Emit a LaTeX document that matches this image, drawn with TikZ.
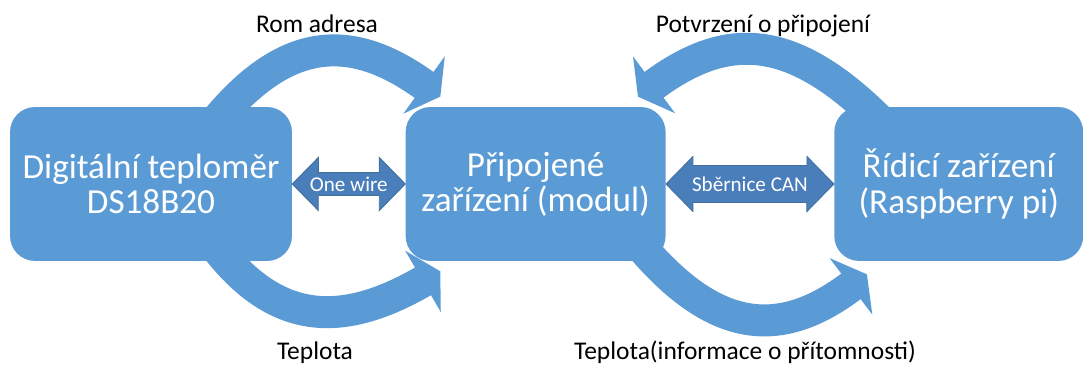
\documentclass[tikz,border=0pt]{standalone}
\usepackage{fontspec}
\setmainfont{Carlito}
\usepackage{tikz}
\usetikzlibrary{arrows.meta, positioning, calc, backgrounds}

\definecolor{boxblue}{HTML}{5B9BD5}
\definecolor{linkblue}{HTML}{4A7EBB}
\definecolor{linkedge}{HTML}{41719C}

\begin{document}
\begin{tikzpicture}[
    x=0.02cm, y=0.02cm,
    node distance=2.26cm,
    unit/.style={rectangle, fill=boxblue, rounded corners=0.5cm, minimum height=3.08cm,
                 align=center, text=white, font=\fontsize{20}{20}\selectfont},
    link/.style={fill=linkblue, draw=linkedge, line width=0.5pt},
    linktext/.style={text=white, font=\fontsize{12}{13}\selectfont, inner sep=0pt},
    flow/.style={draw=boxblue, line width=0.64cm, -{Triangle[width=1.4cm, length=0.4cm]}},
    tag/.style={font=\fontsize{14.5}{17}\selectfont, anchor=base}
]
\useasboundingbox (0,0) rectangle (1083,367);

\node[unit, minimum width=5.64cm] (sensor) at (151,183) {Digitální teploměr\\DS18B20};
\node[unit, minimum width=5.2cm, right=of sensor] (module) {Připojené\\zařízení (modul)};
\node[unit, minimum width=4.98cm, right=3.36cm of module] (master) {Řídicí zařízení\\(Raspberry pi)};

% double arrows between the boxes
\filldraw[link] (sensor.east) -- ++(26,26.5) -- ++(0,-15) -- ++(61,0) -- ++(0,15) -- (module.west)
    -- ++(-26,-26.5) -- ++(0,15) -- ++(-61,0) -- ++(0,-15) -- cycle;
\node[linktext] (onewire) at ($(sensor.east)!0.5!(module.west)$) {One wire};
\filldraw[link] (module.east) -- ++(27,27.5) -- ++(0,-9) -- ++(114,0) -- ++(0,9) -- (master.west)
    -- ++(-27,-27.5) -- ++(0,9) -- ++(-114,0) -- ++(0,-9) -- cycle;
\node[linktext] (can) at ($(module.east)!0.5!(master.west)$) {Sběrnice CAN};

% curved block arrows behind the boxes
\begin{scope}[on background layer]
\draw[flow] ([shift={(-77,-15)}]sensor.north east) .. controls +(70,85) and +(-90,65) ..
    ([shift={(35,10)}]module.north west);
\draw[flow] ([shift={(-77,15)}]sensor.south east) .. controls +(60,-78) and +(-100,-58) ..
    ([shift={(35,-10)}]module.south west);
\draw[flow] ([shift={(47,-15)}]master.north west) .. controls +(-90,90) and +(88,65) ..
    ([shift={(-28,10)}]module.north east);
\draw[flow] ([shift={(-25,15)}]module.south east) .. controls +(75,-88) and +(-86,-65) ..
    ([shift={(33,-13)}]master.south west);
\end{scope}

\node[tag] (romlbl) at (317,334) {Rom adresa};
\node[tag] (templbl) at (315,7) {Teplota};
\node[tag] (acklbl) at (763,334) {Potvrzení o připojení};
\node[tag] (infolbl) at (745,7) {Teplota(informace o přítomnosti)};
\end{tikzpicture}
\end{document}
